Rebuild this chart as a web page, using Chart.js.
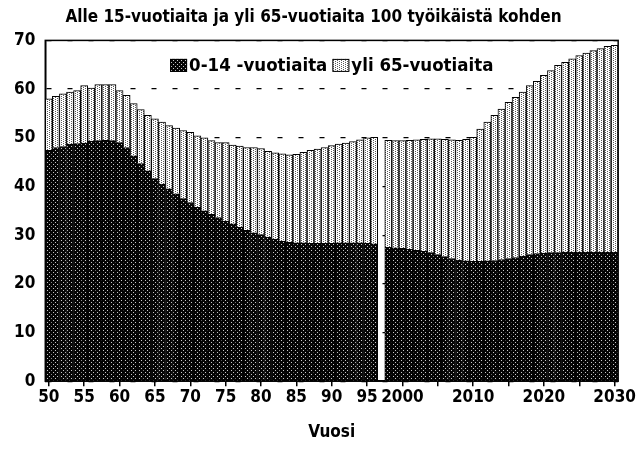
<!DOCTYPE html>
<html>
<head>
<meta charset="utf-8">
<script src="https://cdn.jsdelivr.net/npm/chart.js@4.4.0/dist/chart.umd.min.js"></script>
<style>body{margin:0;background:#fff}</style>
</head>
<body>
<canvas id="myChart" width="637" height="455"></canvas>
<script>
let years = [
    1950, 1951, 1952, 1953, 1954, 1955, 1956, 1957, 1958, 1959,
    1960, 1961, 1962, 1963, 1964, 1965, 1966, 1967, 1968, 1969,
    1970, 1971, 1972, 1973, 1974, 1975, 1976, 1977, 1978, 1979,
    1980, 1981, 1982, 1983, 1984, 1985, 1986, 1987, 1988, 1989,
    1990, 1991, 1992, 1993, 1994, 1995, 1996, 1997, 1998, 1999,
    2000, 2001, 2002, 2003, 2004, 2005, 2006, 2007, 2008, 2009,
    2010, 2011, 2012, 2013, 2014, 2015, 2016, 2017, 2018, 2019,
    2020, 2021, 2022, 2023, 2024, 2025, 2026, 2027, 2028, 2029,
    2030
];

// 0-14 -vuotiaat 100 työikäistä kohden (1997 puuttuu)
let young = [
    47.4, 48.0, 48.2, 48.7, 48.8, 48.9, 49.3, 49.4, 49.5, 49.4,
    49.0, 48.0, 46.3, 44.7, 43.2, 41.6, 40.5, 39.5, 38.5, 37.5,
    36.7, 35.7, 35.0, 34.3, 33.6, 32.9, 32.3, 31.6, 31.0, 30.5,
    30.1, 29.6, 29.2, 28.8, 28.5, 28.4, 28.4, 28.3, 28.3, 28.3,
    28.3, 28.4, 28.4, 28.4, 28.4, 28.3, 28.2, null, 27.5, 27.4,
    27.3, 27.1, 26.9, 26.7, 26.4, 26.0, 25.6, 25.2, 24.9, 24.7,
    24.6, 24.6, 24.7, 24.8, 25.0, 25.2, 25.4, 25.7, 26.0, 26.2,
    26.3, 26.4, 26.4, 26.5, 26.5, 26.5, 26.5, 26.5, 26.5, 26.5,
    26.5
];

// yli 65-vuotiaat
let old = [
    10.6, 10.5, 10.8, 10.7, 10.9, 11.8, 10.9, 11.5, 11.4, 11.5,
    10.7, 10.7, 10.7, 11.1, 11.4, 12.3, 12.7, 13.0, 13.5, 14.0,
    14.4, 14.7, 15.0, 15.1, 15.4, 16.1, 16.2, 16.7, 17.0, 17.5,
    17.7, 17.6, 17.7, 17.9, 18.0, 18.2, 18.6, 19.1, 19.4, 19.7,
    20.1, 20.3, 20.5, 20.8, 21.2, 21.7, 21.9, null, 22.0, 22.0,
    22.1, 22.4, 22.7, 23.0, 23.4, 23.8, 24.1, 24.4, 24.6, 25.0,
    25.5, 27.2, 28.5, 29.8, 30.9, 32.1, 32.9, 33.7, 34.7, 35.4,
    36.5, 37.4, 38.5, 39.0, 39.7, 40.4, 40.9, 41.4, 41.8, 42.3,
    42.5
];

let tickYears = [1950, 1955, 1960, 1965, 1970, 1975, 1980, 1985, 1990, 1995, 2000, 2010, 2020, 2030];
let tickLabels = ["50", "55", "60", "65", "70", "75", "80", "85", "90", "95", "2000", "2010", "2020", "2030"];

let fontFamily = "'Liberation Sans Narrow', 'DejaVu Sans Condensed', Arial, sans-serif";

function makePattern(bg, dot, points) {
    let c = document.createElement("canvas");
    c.width = 4;
    c.height = 4;
    let g = c.getContext("2d");
    g.fillStyle = bg;
    g.fillRect(0, 0, 4, 4);
    g.fillStyle = dot;
    points.forEach(p => g.fillRect(p[0], p[1], 1, 1));
    return g.createPattern(c, "repeat");
}

let darkFill = makePattern("#050505", "#c8c8c8", [[1, 0], [3, 2]]);
let lightFill = makePattern("#ffffff", "#5a5a5a", [[1, 0], [3, 1], [1, 2], [3, 3]]);

// kehys kuva-alueen ympäri
let frame = {
    id: "frame",
    afterDatasetsDraw(chart) {
        let a = chart.chartArea;
        let ctx = chart.ctx;
        ctx.save();
        ctx.strokeStyle = "#000";
        ctx.lineWidth = 1.5;
        ctx.strokeRect(a.left, a.top, a.right - a.left, a.bottom - a.top);
        ctx.restore();
    }
};

// selite kuva-alueen sisällä, ylhäällä keskellä
let innerLegend = {
    id: "innerLegend",
    afterDatasetsDraw(chart) {
        let a = chart.chartArea;
        let ctx = chart.ctx;
        let boxW = 17, boxH = 13, boxGap = 2, itemGap = 5;
        ctx.save();
        ctx.font = "bold 18.5px " + fontFamily;
        ctx.textBaseline = "middle";
        let sets = chart.data.datasets;
        let widths = sets.map(d => boxW + boxGap + ctx.measureText(d.label).width);
        let total = widths.reduce((s, w) => s + w, 0) + itemGap * (sets.length - 1);
        let x = (a.left + a.right) / 2 - total / 2;
        let y = a.top + 25;
        sets.forEach((d, i) => {
            ctx.fillStyle = d.backgroundColor;
            ctx.fillRect(x, y - boxH / 2, boxW, boxH);
            ctx.strokeStyle = "#000";
            ctx.lineWidth = 1;
            ctx.strokeRect(x + 0.5, y - boxH / 2 + 0.5, boxW - 1, boxH - 1);
            ctx.fillStyle = "#000";
            ctx.fillText(d.label, x + boxW + boxGap, y + 1);
            x += widths[i] + itemGap;
        });
        ctx.restore();
    }
};

let myChart = document.getElementById("myChart").getContext("2d");
let popChart = new Chart(myChart, {
    type: "bar",
    data: {
        labels: years,
        datasets: [{
            label: "0-14 -vuotiaita",
            data: young,
            backgroundColor: darkFill,
            borderColor: "#000",
            borderWidth: 1
        }, {
            label: "yli 65-vuotiaita",
            data: old,
            backgroundColor: lightFill,
            borderColor: "#000",
            borderWidth: 1
        }]
    },
    plugins: [frame, innerLegend],
    options: {
        responsive: false,
        animation: false,
        devicePixelRatio: 1,
        layout: {
            padding: { left: 4, right: 14, top: 0, bottom: 12 }
        },
        datasets: {
            bar: { barPercentage: 1, categoryPercentage: 1 }
        },
        scales: {
            x: {
                stacked: true,
                grid: {
                    offset: false,
                    drawOnChartArea: false,
                    tickLength: 5,
                    lineWidth: 1.5,
                    color: ctx => years[ctx.index] % 5 === 0 ? "#000" : "rgba(0,0,0,0)"
                },
                border: { color: "#000", width: 1.5 },
                ticks: {
                    autoSkip: false,
                    maxRotation: 0,
                    minRotation: 0,
                    padding: 1,
                    color: "#000",
                    font: { family: fontFamily, size: 17, weight: "bold" },
                    callback: function (value, index) {
                        let k = tickYears.indexOf(years[index]);
                        return k >= 0 ? tickLabels[k] : "";
                    }
                },
                title: {
                    display: true,
                    text: "Vuosi",
                    color: "#000",
                    font: { family: fontFamily, size: 17, weight: "bold" },
                    padding: { top: 14, bottom: 0 }
                }
            },
            y: {
                stacked: true,
                min: 0,
                max: 70,
                grid: {
                    drawTicks: false,
                    color: "#000",
                    lineWidth: 1.2
                },
                border: { color: "#000", width: 1.5, dash: [5, 16] },
                ticks: {
                    stepSize: 10,
                    padding: 10,
                    color: "#000",
                    font: { family: fontFamily, size: 17, weight: "bold" }
                }
            }
        },
        plugins: {
            title: {
                display: true,
                text: "Alle 15-vuotiaita ja yli 65-vuotiaita 100 työikäistä kohden",
                align: "center",
                color: "#000",
                font: { family: fontFamily, size: 17, weight: "bold" },
                padding: { top: 7, bottom: 13 }
            },
            legend: { display: false },
            tooltip: { enabled: false }
        }
    }
});
</script>
</body>
</html>
